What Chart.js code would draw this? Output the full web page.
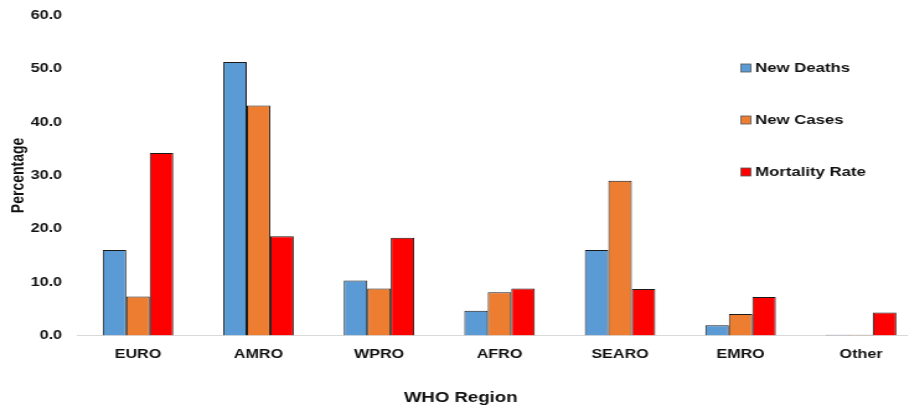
<!DOCTYPE html>
<html>
<head>
<meta charset="utf-8">
<script src="https://cdn.jsdelivr.net/npm/chart.js@4/dist/chart.umd.min.js"></script>
<style>
  html, body { margin: 0; padding: 0; background: #ffffff; overflow: hidden; width: 908px; height: 411px; }
  #wrap { position: absolute; left: 0; top: 0; }
  /* the whole figure is drawn with wide lettering: stretch horizontally */
  #c { display: block; transform: scaleX(1.24); transform-origin: 0 0; }
</style>
</head>
<body>
<div id="wrap"><canvas id="c" width="755" height="411"></canvas></div>
<script>
const regions = ['EURO', 'AMRO', 'WPRO', 'AFRO', 'SEARO', 'EMRO', 'Other'];
const newDeaths = [16.0, 51.3, 10.3, 4.6, 16.0, 1.9, 0.1];
const newCases = [7.3, 43.1, 8.8, 8.1, 29.0, 4.0, 0.1];
const mortalityRate = [34.2, 18.6, 18.3, 8.8, 8.7, 7.2, 4.3];
const seriesNames = ['New Deaths', 'New Cases', 'Mortality Rate'];
const seriesColors = ['#5b9bd5', '#ed7d31', '#ff0000'];

const FONT = '"Liberation Sans", Arial, Helvetica, sans-serif';
const TEXT = '#111111';
const EDGE = '#1a1a1a';

// legend stacked in a column inside the upper right of the plot
const sideLegend = {
  id: 'sideLegend',
  afterDraw(chart) {
    const ctx = chart.ctx;
    const area = chart.chartArea;
    const boxX = area.right - 145.5;
    const textX = area.right - 134;
    const rows = [68, 120, 172];
    ctx.save();
    ctx.font = 'bold 13.5px ' + FONT;
    ctx.textBaseline = 'middle';
    ctx.textAlign = 'left';
    chart.data.datasets.forEach((ds, i) => {
      const y = rows[i];
      ctx.fillStyle = ds.backgroundColor;
      ctx.fillRect(boxX, y - 4, 8, 8);
      ctx.strokeStyle = '#555555';
      ctx.lineWidth = 0.8;
      ctx.strokeRect(boxX, y - 4, 8, 8);
      ctx.fillStyle = TEXT;
      ctx.fillText(ds.label, textX, y + 0.5);
    });
    ctx.restore();
  }
};

const seriesValues = [newDeaths, newCases, mortalityRate];

new Chart(document.getElementById('c'), {
  type: 'bar',
  data: {
    labels: regions,
    datasets: seriesNames.map((name, i) => ({
      label: name,
      data: seriesValues[i],
      backgroundColor: seriesColors[i],
      borderColor: EDGE,
      borderWidth: 1,
      borderSkipped: 'bottom',
      categoryPercentage: 0.585,
      barPercentage: 1.0
    }))
  },
  options: {
    responsive: false,
    devicePixelRatio: 1,
    animation: false,
    layout: { padding: { left: 0, right: 12, top: 15.5, bottom: 0 } },
    plugins: {
      legend: { display: false },
      tooltip: { enabled: false },
      title: {
        display: true,
        position: 'bottom',
        text: 'WHO Region',
        color: TEXT,
        font: { family: FONT, size: 15, weight: 'bold' },
        padding: { top: 16, bottom: 4 }
      }
    },
    scales: {
      x: {
        grid: { display: false, drawTicks: false },
        border: { display: true, color: '#d9d9d9', width: 1 },
        ticks: {
          color: TEXT,
          padding: 11,
          font: { family: FONT, size: 13, weight: 'bold' }
        }
      },
      y: {
        min: 0,
        max: 60,
        grid: { display: false, drawTicks: false },
        border: { display: false },
        afterFit(scale) {
          scale.width = 62.7;
          scale.paddingTop = 0;
          scale.paddingBottom = 0;
        },
        ticks: {
          stepSize: 10,
          color: TEXT,
          padding: 12.7,
          font: { family: FONT, size: 13, weight: 'bold' },
          callback: v => Number(v).toFixed(1)
        },
        title: {
          display: true,
          text: 'Percentage',
          color: TEXT,
          font: { family: FONT, size: 14, weight: 'bold' },
          padding: { top: 6.5, bottom: 2 }
        }
      }
    }
  },
  plugins: [sideLegend]
});
</script>
</body>
</html>
